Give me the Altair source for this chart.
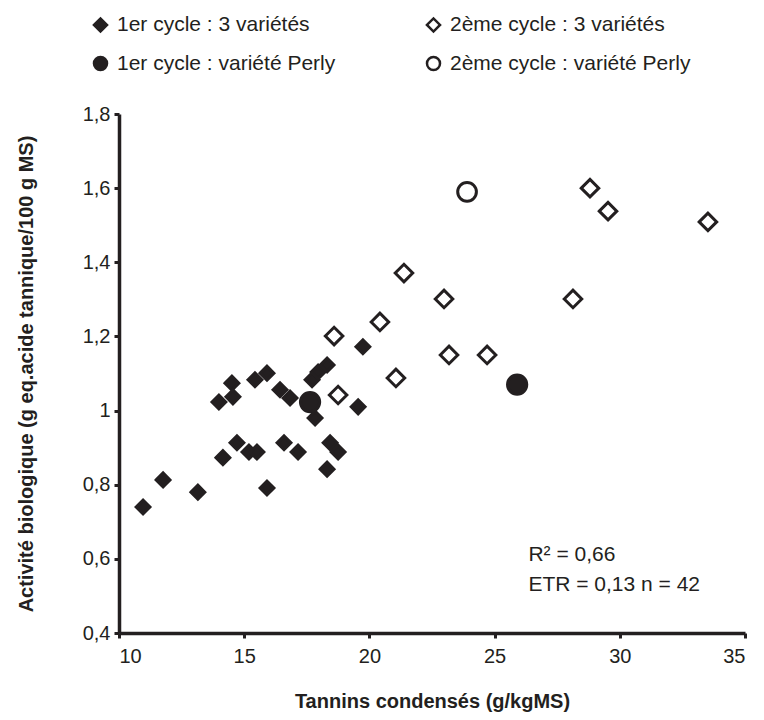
import altair as alt
import pandas as pd

# ---- data ----
c1_x = [10.96, 11.76, 13.15, 13.99, 14.51, 14.55, 14.15, 14.71, 15.19, 15.51,
        15.43, 15.91, 15.91, 16.43, 16.83, 16.59, 17.15, 17.71, 17.95, 18.31,
        17.83, 18.43, 18.75, 18.31, 19.55, 19.74]
c1_y = [0.740, 0.813, 0.780, 1.023, 1.074, 1.037, 0.873, 0.913, 0.888, 0.888,
        1.083, 1.101, 0.791, 1.056, 1.034, 0.913, 0.888, 1.083, 1.104, 1.123,
        0.980, 0.913, 0.888, 0.842, 1.010, 1.172]

c2_x = [18.59, 18.75, 20.42, 21.38, 21.06, 22.98, 23.18, 24.70, 28.13, 28.81, 29.53, 33.52]
c2_y = [1.201, 1.042, 1.239, 1.371, 1.088, 1.301, 1.150, 1.150, 1.301, 1.600, 1.538, 1.509]

p1_x = [17.63, 25.90]
p1_y = [1.023, 1.070]

p2_x = [23.90]
p2_y = [1.590]

series = ["1er cycle : 3 variétés", "2ème cycle : 3 variétés",
          "1er cycle : variété Perly", "2ème cycle : variété Perly"]

x_ticks = [10, 15, 20, 25, 30, 35]
y_ticks = [0.4, 0.6, 0.8, 1.0, 1.2, 1.4, 1.6, 1.8]

x_title = "Tannins condensés (g/kgMS)"
y_title = "Activité biologique (g eq.acide tannique/100 g MS)"
stat1 = "R² = 0,66"
stat2 = "ETR = 0,13 n = 42"

rows = []
for xs, ys, s in [(c1_x, c1_y, series[0]), (c2_x, c2_y, series[1]),
                  (p1_x, p1_y, series[2]), (p2_x, p2_y, series[3])]:
    for a, b in zip(xs, ys):
        rows.append({"x": a, "y": b, "serie": s})
df = pd.DataFrame(rows)

INK = "#231f20"
FONT = "Liberation Sans"

# legend entries are filled column by column: order so rows read as in the reference
leg_order = [series[0], series[2], series[1], series[3]]
shape_range = ["diamond", "circle", "diamond", "circle"]
fill_range = [INK, INK, "white", "white"]

xenc = alt.X("x:Q", scale=alt.Scale(domain=[10, 35], nice=False, zero=False),
             axis=alt.Axis(values=x_ticks, title=x_title, labelPadding=8, titlePadding=25))
yenc = alt.Y("y:Q", scale=alt.Scale(domain=[0.4, 1.8], nice=False, zero=False),
             axis=alt.Axis(values=y_ticks, title=y_title, labelPadding=4, titlePadding=46,
                           labelExpr="datum.value == 1 ? '1' : replace(format(datum.value, '.1f'), '.', ',')"))

legend = alt.Legend(title=None, orient="none", legendX=-29, legendY=-100, columns=2,
                    columnPadding=85, rowPadding=14, symbolSize=170, labelOffset=6,
                    labelFontSize=21, labelFont=FONT, labelColor=INK, padding=0,
                    symbolStrokeColor=INK, symbolStrokeWidth=2.5, labelLimit=400)

points = (
    alt.Chart(df)
    .transform_calculate(
        sz="datum.serie == '%s' ? 191 : datum.serie == '%s' ? 306 : datum.serie == '%s' ? 370 : 350"
        % (series[0], series[1], series[2])
    )
    .mark_point(filled=False, strokeWidth=3, opacity=1)
    .encode(
        x=xenc, y=yenc,
        shape=alt.Shape("serie:N", scale=alt.Scale(domain=leg_order, range=shape_range), legend=legend),
        fill=alt.Fill("serie:N", scale=alt.Scale(domain=leg_order, range=fill_range), legend=legend),
        stroke=alt.Stroke("serie:N", scale=alt.Scale(domain=leg_order, range=[INK, INK, INK, INK]),
                          legend=legend),
        size=alt.Size("sz:Q", scale=None),
    )
)

t1 = alt.Chart().mark_text(align="left", baseline="middle", fontSize=21, font=FONT, color=INK).encode(
    x=alt.datum(26.35), y=alt.datum(0.61), text=alt.value(stat1))
t2 = alt.Chart().mark_text(align="left", baseline="middle", fontSize=21, font=FONT, color=INK).encode(
    x=alt.datum(26.35), y=alt.datum(0.53), text=alt.value(stat2))

chart = alt.layer(points, t1, t2).properties(
    width=626, height=519,
    autosize=alt.AutoSizeParams(type="none"),
    padding={"left": 111, "top": 106, "right": 11, "bottom": 79},
    background="white",
).configure_view(stroke=None).configure_axis(
    grid=False, domainColor=INK, domainWidth=3.5, tickColor=INK, tickWidth=3, tickSize=5,
    labelFont=FONT, labelFontSize=20, labelColor=INK,
    titleFont=FONT, titleFontSize=20, titleFontWeight="bold", titleColor=INK,
)

chart.save("out.html", embed_options={"renderer": "svg", "actions": False})
